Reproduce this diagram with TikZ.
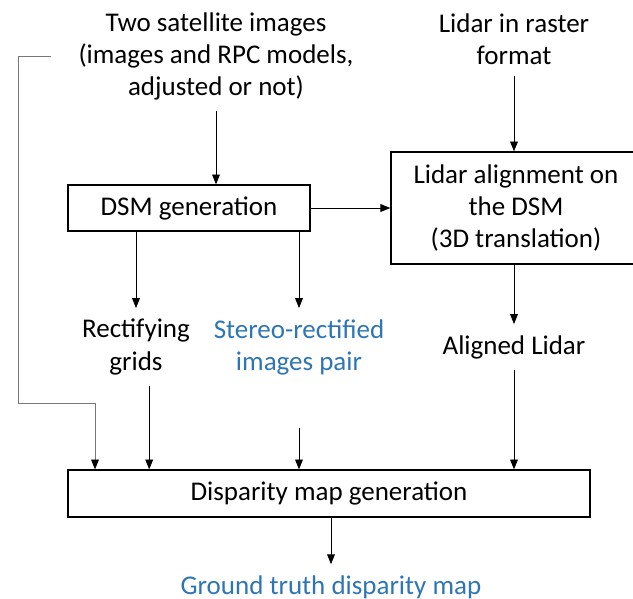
\documentclass[tikz,border=0pt]{standalone}
\usepackage{fontspec}
\setmainfont{Carlito}
\usetikzlibrary{arrows.meta}
\definecolor{TruthBlue}{RGB}{46,117,182}
\definecolor{LinkGray}{RGB}{120,120,120}
\tikzset{
  txt/.style={align=center, inner sep=1pt, outer sep=7pt, font=\fontsize{19.2}{22.8}\selectfont},
  proc/.style={draw=black, line width=0.9pt, align=center, inner sep=0pt,
    font=\fontsize{19.2}{22.8}\selectfont},
  flow/.style={-{Triangle[length=7pt,width=5.5pt,color=black]}, draw=black, line width=0.55pt},
  link/.style={flow, draw=LinkGray},
}

\begin{document}
\begin{tikzpicture}[x=0.025cm, y=-0.025cm]
  \useasboundingbox (0,0) rectangle (633,599);
  % inputs
  \node[txt] (sat) at (216,56) {Two satellite images\\(images and RPC models,\\adjusted or not)};
  \node[txt] (raw) at (514,39) {Lidar in raster\\format};
  % processing
  \node[proc, minimum width=6.05cm, minimum height=1.15cm] (dsm) at (189,208) {DSM generation};
  \node[proc, minimum width=6.25cm, minimum height=2.8cm] (align) at (516,208) {Lidar alignment on\\the DSM\\(3D translation)};
  % intermediate products
  \node[txt] (grids) at (136,347) {Rectifying\\grids};
  \node[txt, text=TruthBlue] (pair) at (299,347) {Stereo-rectified\\images pair};
  \node[txt] (lidar) at (514,347) {Aligned Lidar};
  % output
  \node[proc, minimum width=13.05cm, minimum height=1.175cm] (disp) at (329,493.5) {Disparity map generation};
  \node[txt, text=TruthBlue] (gt) at (331,587) {Ground truth disparity map};
  \coordinate (bend) at (18,403);

  \draw[flow] (sat) -- (sat |- dsm.north);
  \draw[flow] (raw) -- (raw |- align.north);
  \draw[flow] (dsm) -- (align);
  \draw[flow] (grids |- dsm.south) -- (grids);
  \draw[flow] (pair |- dsm.south) -- (pair);
  \draw[flow] (lidar |- align.south) -- (lidar);
  \draw[flow] ([xshift=0.33cm]grids.south) -- ([xshift=0.33cm]grids.south |- disp.north);
  \draw[flow, shorten <=1.05cm] (pair) -- (pair |- disp.north);
  \draw[flow] (lidar) -- (lidar |- disp.north);
  \draw[flow] (gt |- disp.south) -- (gt);
  \draw[link] ([xshift=-0.4cm]sat.west) -- (sat.west -| bend) -- (bend) -| (95,0 |- disp.north);
\end{tikzpicture}
\end{document}
